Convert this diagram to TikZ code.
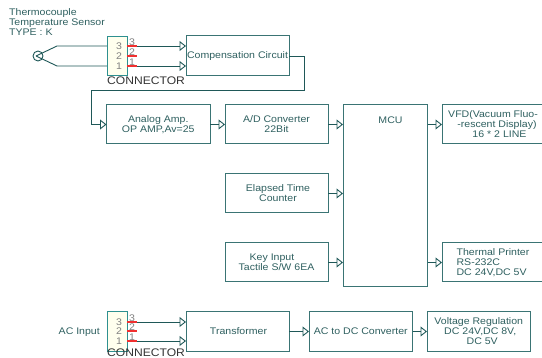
\documentclass[tikz,border=0pt]{standalone}
\usepackage{fontspec}
\setmainfont[FakeStretch=1.1]{Liberation Sans}
\usetikzlibrary{arrows.meta}
\definecolor{wire}{HTML}{1F5858}
\definecolor{edge}{HTML}{3A7474}
\definecolor{lettering}{HTML}{2F6060}
\definecolor{pin}{HTML}{F03030}
\definecolor{shell}{HTML}{FFFFEE}
\tikzset{
    blockbox/.style={draw=edge,line width=1pt,fill=white,inner sep=0pt,outer sep=0pt,align=center,text=lettering,font=\fontsize{9.6}{10}\selectfont},
    caption/.style={inner sep=0pt,text=lettering,font=\fontsize{9.6}{10}\selectfont},
    shellbox/.style={draw=edge!80!cyan,line width=1pt,fill=shell,inner sep=0pt,outer sep=0pt,minimum width=20,minimum height=39.5},
    pinnum/.style={inner sep=0pt,text=gray,font=\fontsize{9.6}{10}\selectfont},
    connname/.style={inner sep=0pt,anchor=west,text=black!80,font=\fontsize{11}{11}\selectfont},
    feed/.style={draw=wire,line width=0.9pt,-{Triangle[open,length=6.5pt,width=10pt,line width=0.9pt]}},
    plainwire/.style={draw=wire,line width=0.9pt},
    pinwire/.style={draw=pin,line width=1.3pt}
}
\begin{document}
\begin{tikzpicture}[x=1pt,y=-1pt]
    \useasboundingbox (0,0) rectangle (542,358);

    \node[caption,align=left,anchor=north west] (sensorname) at (9,8.5) {Thermocouple\\Temperature Sensor\\TYPE : K};
    \node[draw=wire,line width=0.9pt,circle,minimum size=10,inner sep=0pt] (sensor) at (38,56) {};
    \draw[plainwire] (sensor.center)++(-2,0) -- (57,46) -- (107,46);
    \draw[plainwire] (sensor.center)++(-2,0) -- (57,66) -- (107,66);

    \node[shellbox] (connA) at (117,56) {};
    \node[connname] (connAname) at (107,81) {CONNECTOR};
    \node[blockbox,minimum width=103,minimum height=40] (comp) at (237.5,56) {Compensation Circuit};
    \node[blockbox,minimum width=103.5,minimum height=39] (analog) at (158.25,124.5) {Analog Amp.\\OP AMP,Av=25};
    \node[blockbox,minimum width=103,minimum height=39] (adc) at (276.5,124.5) {A/D Converter\\22Bit};
    \node[blockbox,minimum width=84.5,minimum height=182] (mcu) at (385.25,196) {};
    \node[caption] (mcuname) at (390.5,120) {MCU};
    \node[blockbox,minimum width=102,minimum height=39] (vfd) at (493,124.5) {VFD(Vacuum Fluo-\\\hspace*{8pt}-rescent Display)\\\hspace*{13pt}16 * 2 LINE};
    \node[blockbox,minimum width=103,minimum height=39] (elapsed) at (276.5,193.5) {\hspace*{3pt}Elapsed Time\\\hspace*{3pt}Counter};
    \node[blockbox,minimum width=103,minimum height=39] (keyin) at (276.5,262.5) {Key Input\hspace*{9pt}\\\hspace*{0pt}Tactile S/W 6EA};
    \node[blockbox,minimum width=102,minimum height=39,align=left] (printer) at (493,262.5) {Thermal Printer\\RS-232C\\DC 24V,DC 5V};

    \node[caption,anchor=east] (acname) at (100,332) {AC Input};
    \node[shellbox] (connB) at (117,331.5) {};
    \node[connname] (connBname) at (107,353) {CONNECTOR};
    \node[blockbox,minimum width=103,minimum height=39.5] (trafo) at (237.5,331.5) {\hspace*{2pt}Transformer};
    \node[blockbox,minimum width=103.5,minimum height=39.5] (acdc) at (360.75,331.5) {AC to DC Converter};
    \node[blockbox,minimum width=103.5,minimum height=39.5] (reg) at (478.75,331.5) {Voltage Regulation\\\hspace*{3pt}DC 24V,DC 8V,\\\hspace*{7pt}DC 5V};

    \foreach \n/\yy in {3/46,2/56,1/66} {
        \node[pinnum] (numA\n) at (119,\yy) {\n};
        \coordinate (pinA\n) at (127,\yy);
        \coordinate (tipA\n) at (137,\yy);
        \node[pinnum] (outA\n) at (132,\yy-4) {\n};
    }
    \foreach \n/\yy in {3/322,2/331,1/341} {
        \node[pinnum] (numB\n) at (119,\yy) {\n};
        \coordinate (pinB\n) at (127,\yy);
        \coordinate (tipB\n) at (137,\yy);
        \node[pinnum] (outB\n) at (132,\yy-4) {\n};
    }

    \draw[feed] (tipA3) -- (tipA3 -| comp.west);
    \draw[feed] (tipA1) -- (tipA1 -| comp.west);
    \draw[feed] (tipB3) -- (tipB3 -| trafo.west);
    \draw[feed] (tipB1) -- (tipB1 -| trafo.west);
    \foreach \n in {3,2,1} {
        \draw[pinwire] (pinA\n) -- (tipA\n);
        \draw[pinwire] (pinB\n) -- (tipB\n);
    }

    \coordinate (bendA) at (304,56);
    \coordinate (bendB) at (304,90);
    \coordinate (bendC) at (91.5,90);
    \draw[feed] (comp.east) -- (bendA) -- (bendB) -- (bendC) -- (bendC |- analog.west) -- (analog.west);

    \draw[feed] (analog) -- (adc);
    \draw[feed] (adc.east) -- (adc.east -| mcu.west);
    \draw[feed] (elapsed.east) -- (elapsed.east -| mcu.west);
    \draw[feed] (keyin.east) -- (keyin.east -| mcu.west);
    \draw[feed] (vfd.west -| mcu.east) -- (vfd.west);
    \draw[feed] (printer.west -| mcu.east) -- (printer.west);
    \draw[feed] (trafo) -- (acdc);
    \draw[feed] (acdc) -- (reg);
\end{tikzpicture}
\end{document}
